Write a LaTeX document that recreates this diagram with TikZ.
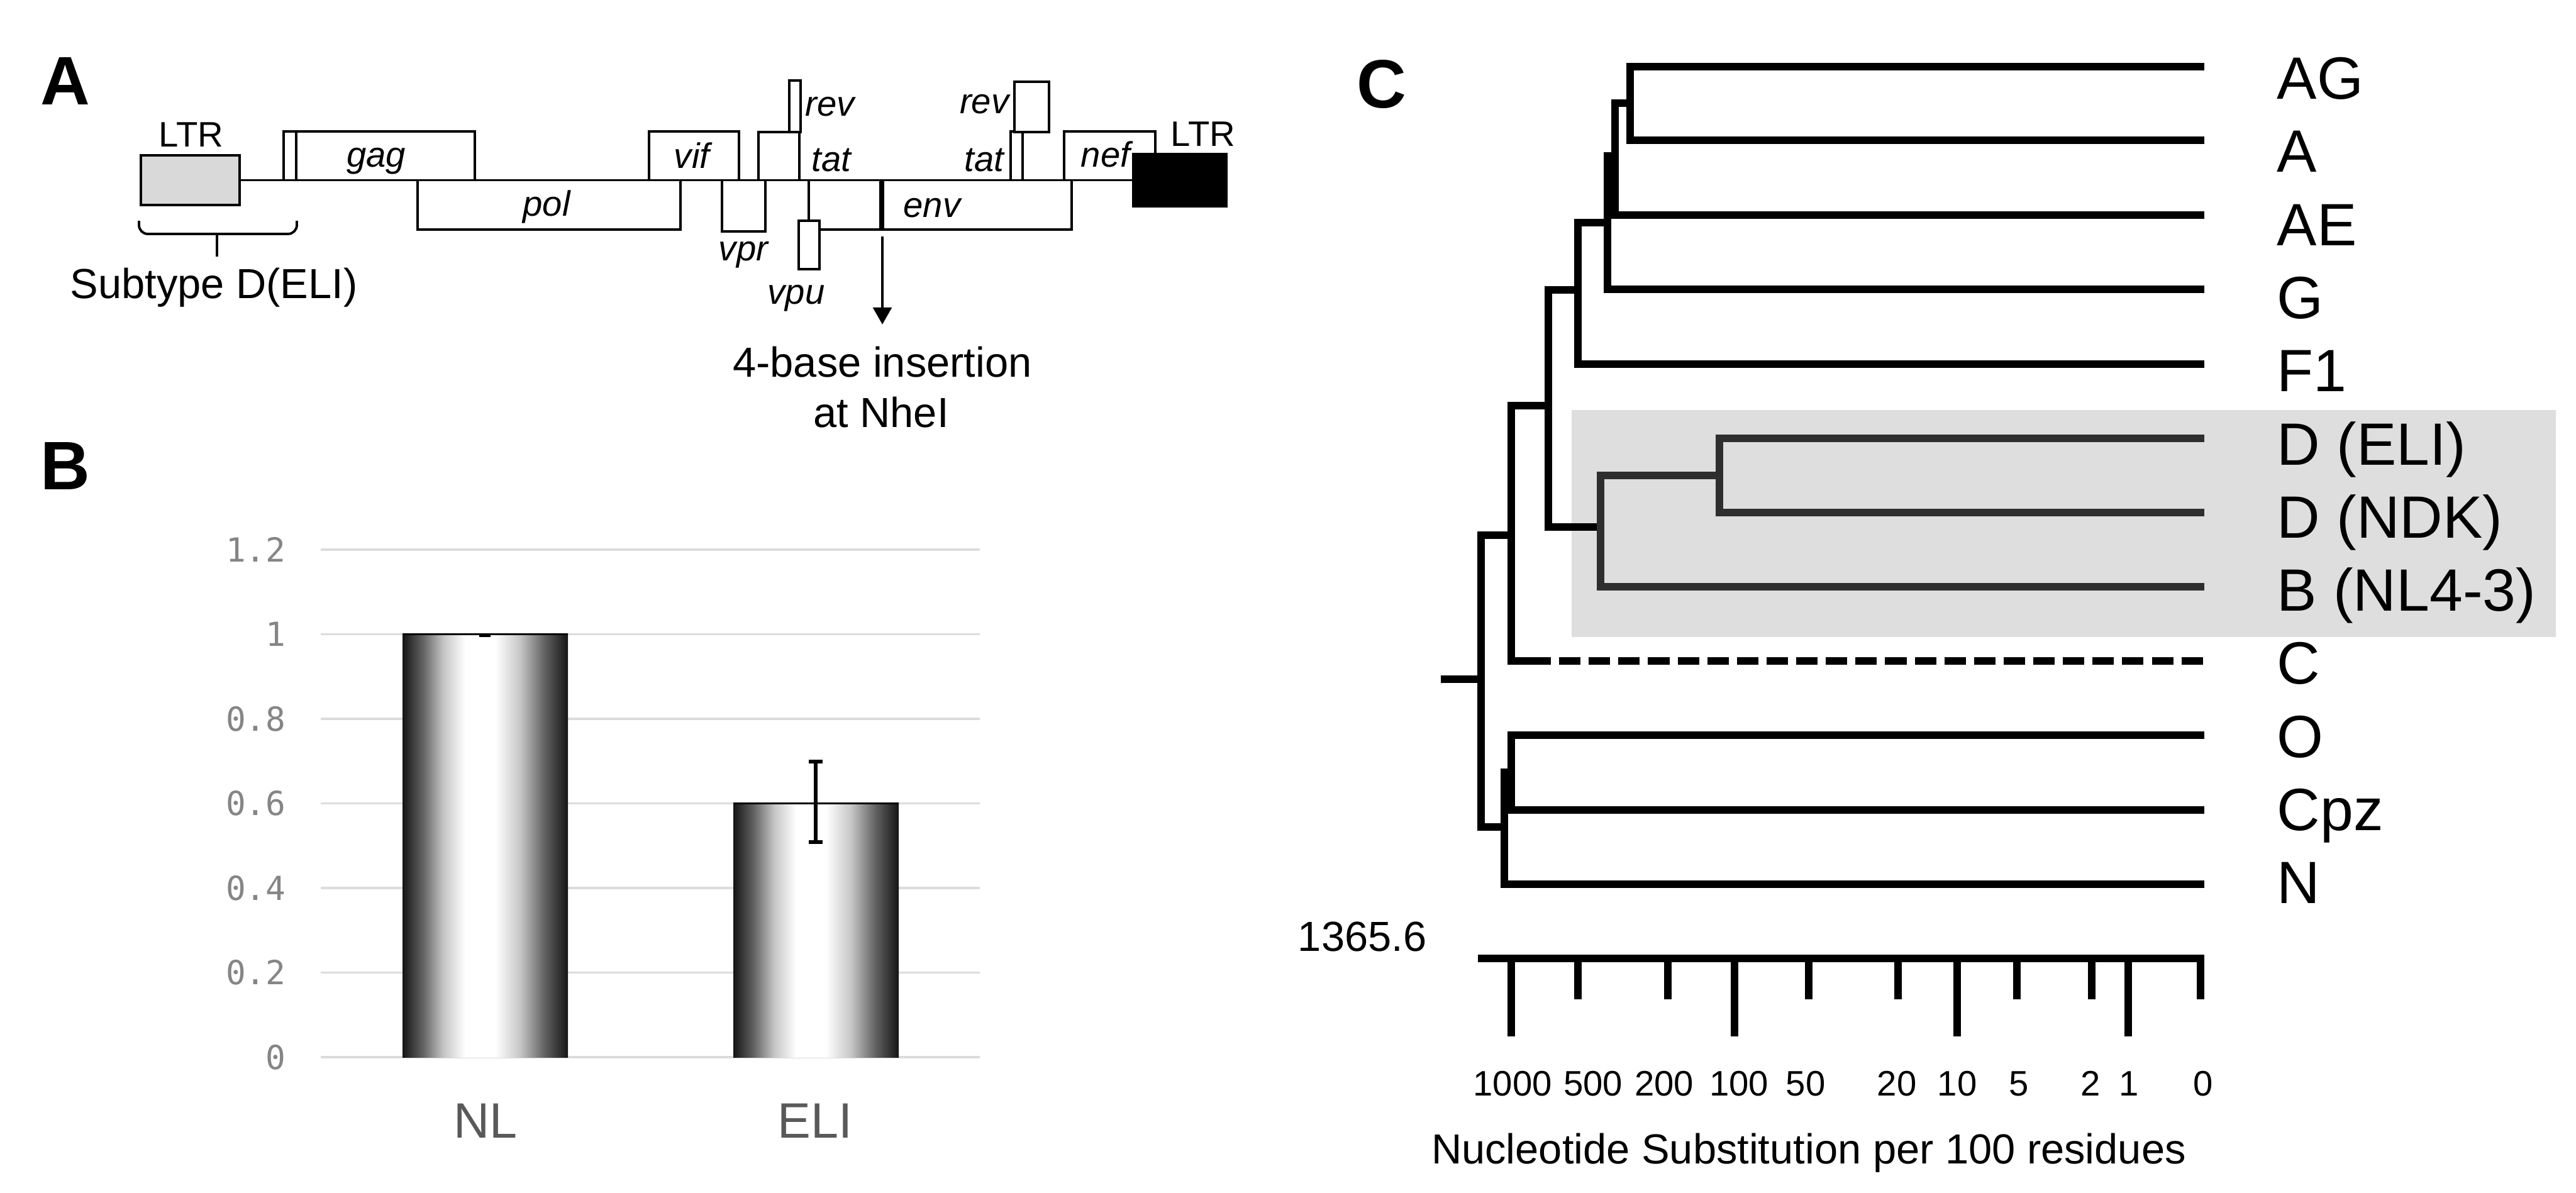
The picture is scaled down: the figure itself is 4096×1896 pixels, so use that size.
\documentclass[tikz,border=0pt]{standalone}
\usepackage{fontspec}
\setmainfont{Liberation Sans}
\newfontfamily\chartmono{DejaVu Sans Mono}
\usetikzlibrary{arrows.meta,backgrounds}
\newcommand{\boxwidth}{1.1pt}
\newcommand{\treewidth}{3.3pt}
\definecolor{ltrgray}{HTML}{D9D9D9}
\definecolor{cladegray}{HTML}{DEDEDE}
\definecolor{gridgray}{HTML}{DCDCDC}
\definecolor{ticktext}{HTML}{858585}
\definecolor{cattext}{HTML}{595959}
% the shaded path is mapped onto 25bp..75bp
\pgfdeclarehorizontalshading{barfade}{100bp}{color(0bp)=(black!92); color(25bp)=(black!92); color(31bp)=(black!62); color(37.5bp)=(black!22); color(44bp)=(white); color(53bp)=(white); color(60.5bp)=(black!22); color(68bp)=(black!62); color(75bp)=(black!92); color(100bp)=(black!92)}

\begin{document}
\begin{tikzpicture}[x=0.01cm,y=-0.01cm,
  every node/.style={inner sep=0pt},
  panel/.style={font=\fontsize{31}{37}\selectfont\bfseries},
  note/.style={font=\fontsize{19}{23}\selectfont, anchor=base},
  ltrlabel/.style={font=\fontsize{16}{19}\selectfont, anchor=base},
  gene/.style={font=\fontsize{16}{19}\selectfont\itshape},
  genebox/.style={draw, line width=\boxwidth, fill=white},
  branch/.style={line width=\treewidth},
  dbranch/.style={line width=\treewidth, draw=black!82},
  leaf/.style={font=\fontsize{27}{32}\selectfont, anchor=base west},
  scalenum/.style={font=\fontsize{16}{19}\selectfont, anchor=base},
  ylab/.style={font=\chartmono\fontsize{15}{18}\selectfont, text=ticktext, anchor=east},
  xlab/.style={font=\fontsize{22.5}{27}\selectfont, text=cattext},
  grid line/.style={draw=gridgray, line width=0.9pt}]
\useasboundingbox (0,0) rectangle (4096,1896);
\begin{scope}[on background layer]
\fill[white] (0,0) rectangle (4096,1896);
\fill[cladegray] (2499,652) rectangle (4064,1013);
\end{scope}

%A
\node[panel] (labA) at (104,129) {A};
\coordinate (bbL) at (381,286.5);
\coordinate (bbR) at (1802,286.5);
\draw[line width=\boxwidth] (bbL) -- (bbR);
\draw[genebox] (451,209) rectangle (471,286.5);
\draw[genebox] (471,209) rectangle (755,286.5);
\draw[genebox] (664,286.5) rectangle (1082,365);
\draw[genebox] (1032,209) rectangle (1175,286.5);
\draw[genebox] (1148,286.5) rectangle (1217,368);
\draw[genebox] (1206,210) rectangle (1271,286.5);
\draw[genebox] (1255,128) rectangle (1273,210);
\draw[genebox] (1286,286.5) rectangle (1704,365);
\draw[genebox] (1270,351) rectangle (1303,428);
\draw[line width=2.3pt] (1402,287) -- (1402,365);
\draw[genebox] (1607,209) rectangle (1626,286.5);
\draw[genebox] (1613,130) rectangle (1668,210);
\draw[genebox] (1692,209) rectangle (1837,286.5);
\node[draw, line width=\boxwidth, fill=ltrgray, minimum width=1.57cm, minimum height=0.79cm] (ltrL) at (302.5,286.5) {};
\node[draw, line width=\boxwidth, fill=black, minimum width=1.48cm, minimum height=0.83cm] (ltrR) at (1876,286.5) {};
\node[ltrlabel] (ltrLtxt) at (304,233) {LTR};
\node[ltrlabel] (ltrRtxt) at (1913,232) {LTR};
\node[gene, anchor=base] (gag) at (598,265) {gag};
\node[gene, anchor=base] (pol) at (869,343) {pol};
\node[gene, anchor=base] (vif) at (1100,267) {vif};
\node[gene, anchor=base] (vpr) at (1182,414) {vpr};
\node[gene, anchor=base west] (rev1) at (1280,184) {rev};
\node[gene, anchor=base west] (tat1) at (1290,272) {tat};
\node[gene, anchor=base] (vpu) at (1266,483) {vpu};
\node[gene, anchor=base] (env) at (1482,345) {env};
\node[gene, anchor=base east] (rev2) at (1605,180) {rev};
\node[gene, anchor=base east] (tat2) at (1597,272) {tat};
\node[gene, anchor=base] (nef) at (1758,265) {nef};
%brace
\draw[line width=\boxwidth, rounded corners=4pt] (221,351) -- (221,372) -- (472,372) -- (472,351);
\coordinate (braceMid) at (345,372);
\draw[line width=\boxwidth] (braceMid) -- ++(0,36);
\node[note] (subtype) at (340,474) {Subtype D(ELI)};
\node[note] (ins1) at (1403,599) {4-base insertion};
\node[note] (ins2) at (1401,679) {at NheI};
\coordinate (nhe) at (1403,376);
\draw[line width=0.9pt, -{Triangle[length=7.7pt,width=8.5pt]}, shorten >=0.34cm] (nhe) -- (ins1.north);

%B
\node[panel] (labB) at (104,741) {B};
\draw[grid line] (510,1681) -- (1558,1681);
\draw[grid line] (510,1546.5) -- (1558,1546.5);
\draw[grid line] (510,1412) -- (1558,1412);
\draw[grid line] (510,1277.5) -- (1558,1277.5);
\draw[grid line] (510,1143) -- (1558,1143);
\draw[grid line] (510,1008.5) -- (1558,1008.5);
\draw[grid line] (510,874) -- (1558,874);
\node[ylab] (y0) at (455,1681) {0};
\node[ylab] (y2) at (455,1546.5) {0.2};
\node[ylab] (y4) at (455,1412) {0.4};
\node[ylab] (y6) at (455,1277.5) {0.6};
\node[ylab] (y8) at (455,1143) {0.8};
\node[ylab] (y10) at (455,1008.5) {1};
\node[ylab] (y12) at (455,874) {1.2};
\shade[shading=barfade] (640,1008.5) rectangle (903,1681);
\shade[shading=barfade] (1166,1277.5) rectangle (1429,1681);
\draw[line width=0.9pt] (640,1008.5) -- (903,1008.5);
\draw[line width=0.9pt] (1166,1277.5) -- (1429,1277.5);
\draw[line width=1.6pt] (762,1010.5) -- (780,1010.5);
\draw[line width=1.6pt] (1297,1211) -- (1297,1339);
\draw[line width=1.6pt] (1286,1211) -- (1308,1211);
\draw[line width=1.6pt] (1286,1339) -- (1308,1339);
\node[xlab] (catNL) at (772,1782) {NL};
\node[xlab] (catELI) at (1296,1782) {ELI};

%C
\node[panel] (labC) at (2197,134) {C};
\coordinate (tipAG) at (3505,106);
\coordinate (tipA) at (3505,223);
\coordinate (tipAE) at (3505,342);
\coordinate (tipG) at (3505,460);
\coordinate (tipF) at (3505,579);
\coordinate (tipDE) at (3505,697);
\coordinate (tipDN) at (3505,815);
\coordinate (tipB) at (3505,933);
\coordinate (tipC) at (3505,1051);
\coordinate (tipO) at (3505,1169);
\coordinate (tipCpz) at (3505,1288);
\coordinate (tipN) at (3505,1406);
\coordinate (nAGA) at (2592,164);
\coordinate (nAGAE) at (2568,248);
\coordinate (nG) at (2556,354);
\coordinate (nF) at (2509,461);
\coordinate (nDD) at (2734,756);
\coordinate (nDB) at (2545,838);
\coordinate (nFDB) at (2462,645);
\coordinate (nC) at (2403,851);
\coordinate (cDash) at (2466,1051);
\coordinate (nOC) at (2403,1228);
\coordinate (nN) at (2392,1315);
\coordinate (root) at (2355,1080);
\coordinate (rootStub) at (2291,1080);
\draw[branch] (nAGA) |- (tipAG);
\draw[branch] (nAGA) |- (tipA);
\draw[branch] (nAGAE) |- (nAGA);
\draw[branch] (nAGAE) |- (tipAE);
\draw[branch] (nG) |- (nAGAE);
\draw[branch] (nG) |- (tipG);
\draw[branch] (nF) |- (nG);
\draw[branch] (nF) |- (tipF);
\draw[branch] (nFDB) |- (nF);
\draw[branch] (nFDB) |- (nDB);
\draw[dbranch] (nDB) |- (nDD);
\draw[dbranch] (nDB) |- (tipB);
\draw[dbranch] (nDD) |- (tipDE);
\draw[dbranch] (nDD) |- (tipDN);
\draw[branch] (nC) |- (nFDB);
\draw[branch] (nC) |- (cDash);
\draw[branch, dash pattern=on 9.7pt off 3.7pt, dash phase=9.7pt] (cDash) -- (tipC);
\draw[branch] (root) |- (nC);
\draw[branch] (root) |- (nN);
\draw[branch] (rootStub) -- (root);
\draw[branch] (nN) |- (nOC);
\draw[branch] (nN) |- (tipN);
\draw[branch] (nOC) |- (tipO);
\draw[branch] (nOC) |- (tipCpz);
\node[leaf] (labAG) at (3620,157) {AG};
\node[leaf] (labA2) at (3620,273) {A};
\node[leaf] (labAE) at (3620,390) {AE};
\node[leaf] (labG) at (3620,506) {G};
\node[leaf] (labF) at (3620,622) {F1};
\node[leaf] (labDE) at (3620,739) {D (ELI)};
\node[leaf] (labDN) at (3620,855) {D (NDK)};
\node[leaf] (labB2) at (3620,971) {B (NL4-3)};
\node[leaf] (labC2) at (3620,1087) {C};
\node[leaf] (labO) at (3620,1204) {O};
\node[leaf] (labCpz) at (3620,1320) {Cpz};
\node[leaf] (labN) at (3620,1436) {N};
%scale
\coordinate (axL) at (2350,1524);
\coordinate (axR) at (3505,1524);
\draw[branch] (axL) -- (axR);
\draw[branch] (2403,1524) -- (2403,1648);
\draw[branch] (2509,1524) -- (2509,1589);
\draw[branch] (2652,1524) -- (2652,1589);
\draw[branch] (2758,1524) -- (2758,1648);
\draw[branch] (2876,1524) -- (2876,1589);
\draw[branch] (3018,1524) -- (3018,1589);
\draw[branch] (3112,1524) -- (3112,1648);
\draw[branch] (3207,1524) -- (3207,1589);
\draw[branch] (3326,1524) -- (3326,1589);
\draw[branch] (3384,1524) -- (3384,1648);
\draw[branch] (3499,1524) -- (3499,1589);
\node[scalenum] (s1000) at (2405,1742) {1000};
\node[scalenum] (s500) at (2533,1742) {500};
\node[scalenum] (s200) at (2646,1742) {200};
\node[scalenum] (s100) at (2765,1742) {100};
\node[scalenum] (s50) at (2871,1742) {50};
\node[scalenum] (s20) at (3016,1742) {20};
\node[scalenum] (s10) at (3112,1742) {10};
\node[scalenum] (s5) at (3210,1742) {5};
\node[scalenum] (s2) at (3324,1742) {2};
\node[scalenum] (s1) at (3385,1742) {1};
\node[scalenum] (s0) at (3503,1742) {0};
\node[note, anchor=base east] (depth) at (2269,1512) {1365.6};
\node[note] (axtitle) at (2876,1850) {Nucleotide Substitution per 100 residues};
\end{tikzpicture}
\end{document}
